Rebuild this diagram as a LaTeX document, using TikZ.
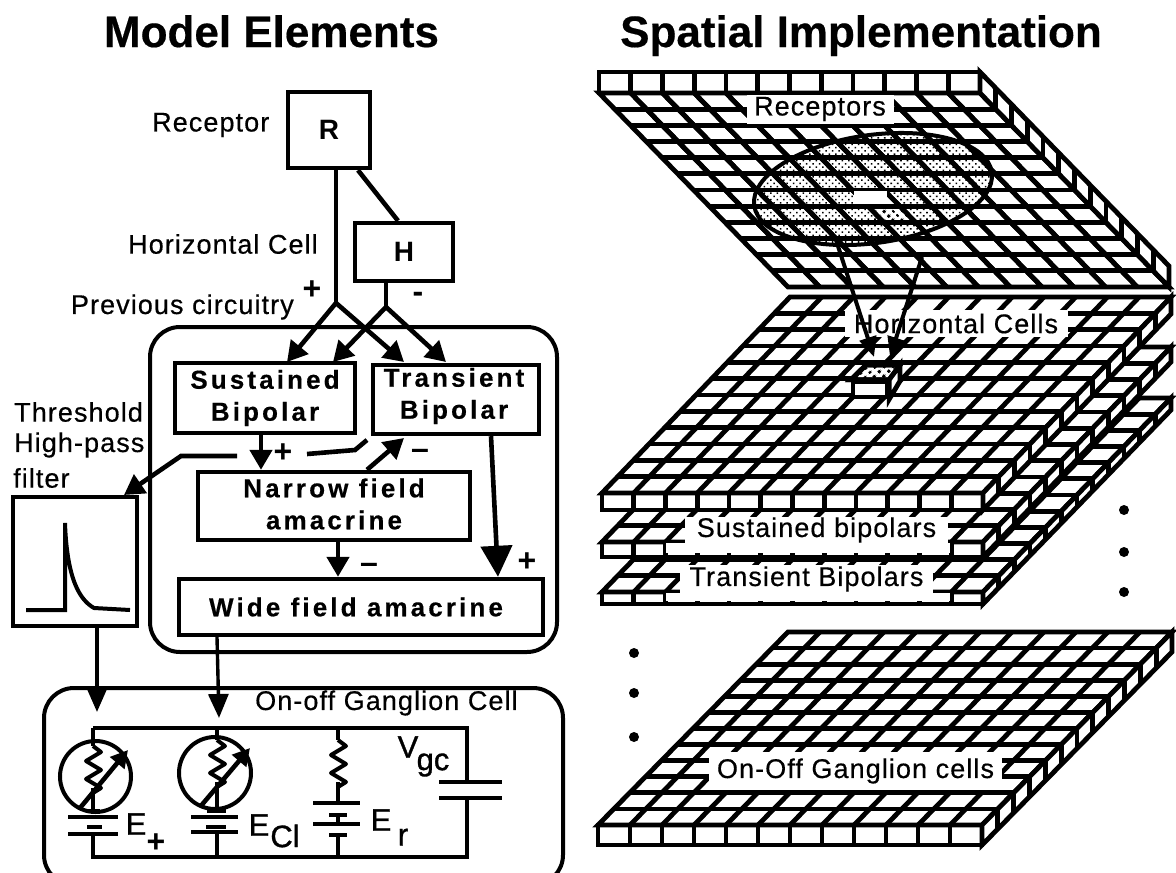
\documentclass[tikz,border=0pt]{standalone}
\usepackage{fontspec}
\setmainfont{Liberation Sans}
\usetikzlibrary{arrows.meta,patterns.meta,calc}

% one slab of cells: front x, front y, back x, back y, width, depth
\newcommand{\gridlayer}[6]{
	\draw[gridline,fill=white] (#1,#2) rectangle ({#1+#5},{#2+#6});
	\draw[gridline,fill=white] (#1,#2) -- ({#1+#5},#2) -- ({#3+#5},#4) -- (#3,#4) -- cycle;
	\draw[gridline,fill=white] ({#1+#5},#2) -- ({#3+#5},#4) -- ({#3+#5},{#4+#6}) -- ({#1+#5},{#2+#6}) -- cycle;
	\foreach \i in {1,...,11} {
		\draw[gridline] ({#1+#5*\i/12},#2) -- ({#3+#5*\i/12},#4);
		\draw[gridline] ({#1+#5*\i/12},#2) -- ++(0,#6);
		\draw[gridline] ({#1+(#3-#1)*\i/12},{#2+(#4-#2)*\i/12}) -- ++(#5,0) -- ++(0,#6);
	}
}
% zigzag of a resistor, x and y of its top
\newcommand{\zigres}[2]{
	\draw[circwire,line join=round] (#1,#2) -- ++(8,6) -- ++(-15,9) -- ++(15,9) -- ++(-15,9) -- ++(15,9) -- ++(-8,5);
}

\tikzset{
	cellbox/.style={draw, fill=white, line width=4.4, inner sep=0},
	roundbox/.style={draw, line width=4, rounded corners=30, inner sep=0},
	wire/.style={line width=4.6},
	circwire/.style={line width=4},
	plate/.style={line width=4.4},
	smallarrow/.style={wire, -{Triangle[length=20,width=22]}},
	bigarrow/.style={wire, -{Triangle[length=31,width=31]}},
	longarrow/.style={line width=3.4, -{Triangle[length=24,width=20]}},
	gridline/.style={line width=4.8, line join=miter},
	lab/.style={font=\fontsize{27}{30}\selectfont\addfontfeature{LetterSpace=4,FakeBold=0.5}, inner sep=0},
	boldlab/.style={font=\fontsize{26}{32}\selectfont\bfseries\addfontfeature{LetterSpace=12,FakeBold=0.4}, align=center, inner sep=0},
	titlelab/.style={font=\fontsize{44}{48}\selectfont\bfseries\addfontfeature{FakeBold=0.4}, anchor=base, inner sep=0},
	signlab/.style={font=\fontsize{32}{32}\selectfont\bfseries, inner sep=0},
	circlab/.style={font=\fontsize{31}{31}\selectfont\addfontfeature{FakeBold=1}, inner sep=0},
	holelab/.style={lab, fill=white},
	bigdot/.style={fill, circle, minimum size=10, inner sep=0},
	shaded/.style={pattern={Dots[radius=1.1pt,distance=4.6pt,angle=45]}},
	checked/.style={pattern={Dots[radius=1.9pt,distance=6.5pt,angle=45]}},
}

\begin{document}
\begin{tikzpicture}[x=1pt,y=-1pt]
	\useasboundingbox (0,0) rectangle (1176,873);

	\node[titlelab] (lefttitle) at (271.5,47) {Model Elements};
	\node[titlelab] (righttitle) at (861,47) {Spatial Implementation};

	% retina circuit
	\node[roundbox, minimum width=407, minimum height=325] (innerbox) at (353.5,489.5) {};
	\node[cellbox, minimum width=82, minimum height=76] (R) at (329,130) {\fontsize{28}{28}\selectfont\bfseries R};
	\node[cellbox, minimum width=98, minimum height=58] (H) at (404,252) {\fontsize{28}{28}\selectfont\bfseries H};
	\node[lab, anchor=west] (receptorlab) at (152,125) {Receptor};
	\node[lab, anchor=east] (horizlab) at (318,244) {Horizontal Cell};
	\node[lab, anchor=east] (prevlab) at (294,307) {Previous circuitry};
	\node[signlab] (plusR) at (312,290) {+};
	\node[signlab] (minusH) at (418,297) {-};

	\node[cellbox, minimum width=180, minimum height=70] (sustained) at (265,398) {};
	\node[boldlab] (sustainedlab) at (265,398) {Sustained\\Bipolar};
	\node[cellbox, minimum width=166, minimum height=69] (transient) at (456,399.5) {};
	\node[boldlab] (transientlab) at (454,396) {Transient\\Bipolar};
	\node[cellbox, minimum width=272, minimum height=68] (narrow) at (334,506) {};
	\node[boldlab] (narrowlab) at (334,504) {Narrow field\\amacrine};
	\node[cellbox, minimum width=364, minimum height=56] (wide) at (361,607) {};
	\node[boldlab] (widelab) at (356,607) {Wide field amacrine};

	\coordinate (jR) at (336,303);
	\coordinate (jH) at (386,307);
	\coordinate (susA) at (287,362);
	\coordinate (susB) at (333,362);
	\coordinate (traA) at (404,362);
	\coordinate (traB) at (446,362);
	\draw[wire] (jR |- R.south) -- (jR);
	\draw[wire] ($(R.south)+(29,0)$) -- (398,0 |- H.north);
	\draw[wire] (jH |- H.south) -- (jH);
	\draw[smallarrow] (jR) -- (susA);
	\draw[smallarrow] (jR) -- (traA);
	\draw[smallarrow] (jH) -- (susB);
	\draw[smallarrow] (jH) -- (traB);

	\coordinate (filtertip) at (124,495);
	\coordinate (offA) at (237,456);
	\coordinate (offB) at (181,456);
	\coordinate (onA) at (307,454);
	\coordinate (onB) at (355,450);
	\coordinate (onC) at (367,440);
	\draw[smallarrow] (261,0 |- sustained.south) -- (261,0 |- narrow.north);
	\node[signlab] (plusS) at (283,453) {+};
	\draw[smallarrow] (offA) -- (offB) -- (filtertip);
	\draw[wire] (onA) -- (onB) -- (onC);
	\draw[smallarrow] (367,0 |- narrow.north) -- (404,438);
	\node[signlab] (minusT) at (420,454) {–};
	\draw[bigarrow] (491,0 |- transient.south) -- (498,0 |- wide.north);
	\node[signlab] (plusW) at (527,562) {+};
	\draw[smallarrow] (338,0 |- narrow.south) -- (338,0 |- wide.north);
	\node[signlab] (minusW) at (369,568) {–};

	% filter
	\node[lab, anchor=west] (threslab) at (14,412) {Threshold};
	\node[lab, anchor=west] (highlab) at (14,445) {High-pass};
	\node[lab, anchor=west] (filtlab) at (13,478) {filter};
	\node[cellbox, minimum width=124, minimum height=129] (filter) at (75,561.5) {};
	\draw[circwire] (26,610) -- (65,610) -- (65,523) .. controls (67,580) and (80,600) .. (94,608) -- (130,610);

	% ganglion cell
	\node[roundbox, minimum width=519, minimum height=197] (ganglion) at (303.5,786.5) {};
	\node[lab, anchor=west] (ganglionlab) at (255,703) {On-off Ganglion Cell};
	\draw[longarrow] (97,0 |- filter.south) -- (97,712);
	\draw[longarrow] (217,0 |- wide.south) -- (219,718);

	\coordinate (railA) at (93,728);
	\coordinate (railB) at (467,728);
	\coordinate (railC) at (467,857);
	\coordinate (railD) at (93,857);
	\draw[circwire] (railA) -- (railB) -- (467,782);
	\draw[circwire] (467,798) -- (railC) -- (railD) -- (93,836);
	\draw[plate] (439,782) -- (502,782);
	\draw[plate] (439,798) -- (502,798);

	% first conductance
	\node[draw, circle, line width=4, minimum size=71] (condA) at (95.5,776.5) {};
	\draw[circwire] (railA) -- (93,746);
	\zigres{93}{746}
	\draw[circwire] (93,788) -- (93,811);
	\draw[plate] (87,811) -- (100,811);
	\draw[wire, -{Triangle[length=17,width=18]}] (80,808) -- (128,750);
	\draw[plate] (68,817) -- (118,817);
	\draw[plate] (87,827) -- (102,827);
	\draw[plate] (68,834) -- (118,834);
	\node[circlab] (Eplus) at (136,824) {E};
	\node[signlab] (Eplussub) at (156,843) {+};

	% second conductance
	\node[draw, circle, line width=4, minimum size=72] (condB) at (215,773) {};
	\draw[circwire] (217,728) -- (217,740);
	\zigres{217}{740}
	\draw[circwire] (217,782) -- (217,811);
	\draw[plate] (207,811) -- (226,811);
	\draw[wire, -{Triangle[length=17,width=18]}] (200,807) -- (250,748);
	\draw[plate] (191,817) -- (238,817);
	\draw[plate] (206,827) -- (226,827);
	\draw[plate] (191,832) -- (238,832);
	\draw[circwire] (217,832) -- (217,857);
	\node[circlab] (ECl) at (259,825) {E};
	\node[circlab] (EClsub) at (285,836) {Cl};

	% leak
	\draw[circwire] (338,728) -- (338,740);
	\zigres{338}{740}
	\draw[circwire] (338,782) -- (338,803);
	\draw[plate] (313,803) -- (360,803);
	\draw[plate] (329,815) -- (347,815);
	\draw[plate] (313,824) -- (360,824);
	\draw[plate] (329,835) -- (347,835);
	\draw[circwire] (338,824) -- (338,815);
	\draw[circwire] (338,835) -- (338,857);
	\node[circlab] (Er) at (381,820) {E};
	\node[circlab] (Ersub) at (403,837) {r};
	\node[circlab] (Vgc) at (408,747) {V};
	\node[circlab] (Vgcsub) at (433,765) {gc};

	% receptor layer
	\gridlayer{599}{93}{788}{287}{381}{-21}
	\draw[line width=4, shaded, rotate around={8:(873,189)}] (873,189) ellipse [x radius=120, y radius=54];
	\draw[fill=white, draw=none] (868,206) -- (900,206) -- (916,222) -- (884,222) -- cycle;
	\draw[checked, draw=none] (868,206) -- (900,206) -- (916,222) -- (884,222) -- cycle;
	\draw[fill=white, draw=none] (887,190) -- (900,204) -- (900,216) -- (887,204) -- cycle;
	\foreach \i in {1,...,11} {
		\draw[gridline] ({599+381*\i/12},93) -- ({788+381*\i/12},287);
		\draw[gridline] ({599+189*\i/12},{93+194*\i/12}) -- ++(381,0);
	}
	\node[holelab, minimum width=147, minimum height=29] (receptorslab) at (820,109) {Receptors};
	\node[cellbox, draw=none, minimum width=33, minimum height=13] (centercell) at (870,197) {};

	% lower layers
	\gridlayer{602}{592}{790}{398}{381}{12}
	\fill[white] (666,593) rectangle (950,601);
	\node[holelab, minimum width=253, minimum height=28] (transientslab) at (806.5,579) {Transient Bipolars};
	\gridlayer{602}{542}{790}{347}{381}{15}
	\fill[white] (666,543) rectangle (950,553);
	\node[holelab, minimum width=263, minimum height=26] (sustainedslab) at (816.5,530) {Sustained bipolars};
	\gridlayer{602}{493}{790}{297}{381}{17}
	\node[holelab, minimum width=223, minimum height=27] (horizontalslab) at (956,323.5) {Horizontal Cells};
	\node[cellbox, minimum width=34, minimum height=15] (hcell) at (870,389.5) {};
	\draw[gridline, fill=white] (hcell.north west) -- (866,365) -- (900,365) -- (hcell.north east) -- cycle;
	\draw[gridline, checked] (hcell.north west) -- (866,365) -- (900,365) -- (hcell.north east) -- cycle;
	\draw[gridline, fill=white] (hcell.north east) -- (900,365) -- (900,381) -- (hcell.south east) -- cycle;

	% receptor to horizontal
	\coordinate (convA) at (836,240);
	\coordinate (convB) at (922,257);
	\draw[line width=4, -{Triangle[length=20,width=17]}] (convA) -- (874,357);
	\draw[line width=4, -{Triangle[length=20,width=17]}] (convB) -- (890,357);

	% ganglion layer
	\gridlayer{598}{825}{788}{632}{384}{20}
	\node[holelab, minimum width=293, minimum height=38] (ganglionslab) at (855.5,771) {On-Off Ganglion cells};

	\foreach \y [count=\n] in {510,552,592} \node[bigdot] (dotR\n) at (1124,\y) {};
	\foreach \y [count=\n] in {653,693,737} \node[bigdot] (dotL\n) at (634,\y) {};
\end{tikzpicture}
\end{document}
